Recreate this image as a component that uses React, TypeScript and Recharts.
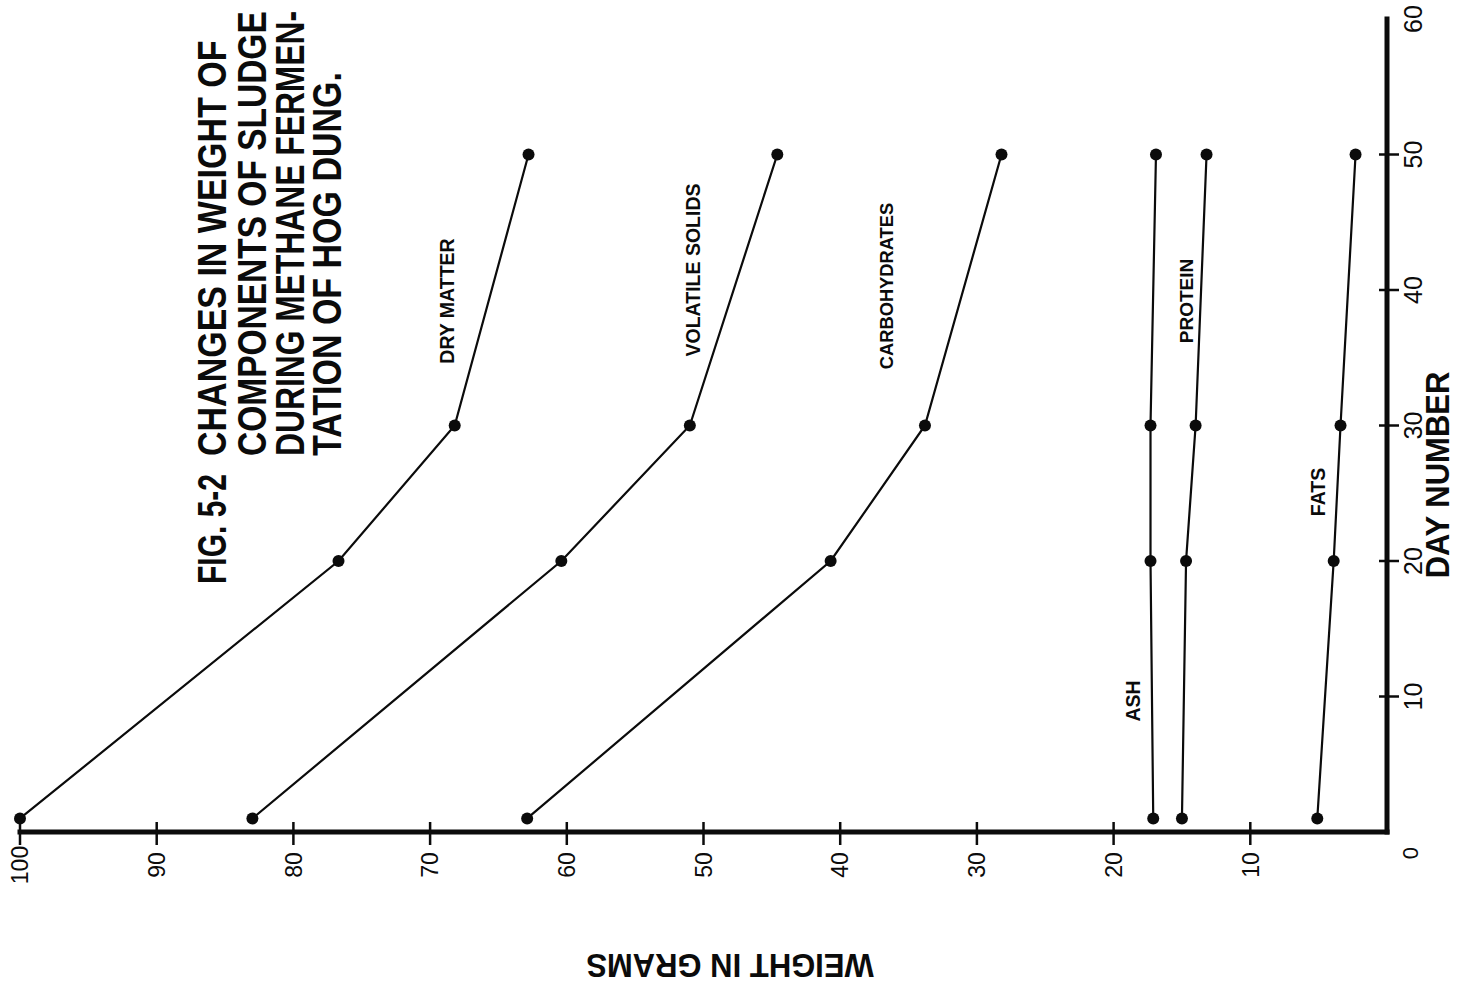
import { LineChart, Line, XAxis, YAxis } from 'recharts'

// days at which the sludge was sampled
const days = [1, 20, 30, 50]

// weight in grams of each component
const dryMatter = [100, 76.7, 68.2, 62.8]
const volatileSolids = [83.0, 60.4, 51.0, 44.6]
const carbohydrates = [62.9, 40.7, 33.8, 28.2]
const ash = [17.1, 17.3, 17.3, 16.9]
const protein = [15.0, 14.7, 14.0, 13.2]
const fats = [5.1, 3.9, 3.4, 2.3]

const weightTicks = [0, 10, 20, 30, 40, 50, 60, 70, 80, 90, 100]
const dayTicks = [0, 10, 20, 30, 40, 50, 60]

const titleLines = [
  'CHANGES IN WEIGHT OF',
  'COMPONENTS OF SLUDGE',
  'DURING METHANE FERMEN-',
  'TATION OF HOG DUNG.',
]

const data = days.map((day, i) => ({
  day,
  dry: dryMatter[i],
  volatile: volatileSolids[i],
  carbo: carbohydrates[i],
  ash: ash[i],
  protein: protein[i],
  fats: fats[i],
}))

const INK = '#0b0b0b'
const SANS = '"Liberation Sans", Arial, Helvetica, sans-serif'

// text turned a quarter turn, reading bottom to top, centred across (cx)
// stretch makes the letters taller without making the line longer
function UpText({ cx, cy, size, children, anchor = 'middle', weight = 'normal', stretch = 1 }: any) {
  return (
    <text
      transform={`translate(${cx},${cy}) rotate(-90) scale(1,${stretch})`}
      dy={size * 0.36}
      textAnchor={anchor}
      fontSize={size}
      fontWeight={weight}
      fontFamily={SANS}
      fill={INK}
    >
      {children}
    </text>
  )
}

function WeightTick(props: any) {
  const { x, y, payload } = props
  const v = payload.value
  if (v === 0) {
    return <UpText cx={x + 23} cy={y + 21} size={22}>0</UpText>
  }
  return (
    <g>
      <line x1={x} x2={x} y1={y - 10} y2={y + 13} stroke={INK} strokeWidth={2.5} />
      <UpText cx={x} cy={y + 33} size={23}>{v}</UpText>
    </g>
  )
}

function DayTick(props: any) {
  const { x, y, payload } = props
  const v = payload.value
  if (v === 0) return <g />
  return (
    <g>
      {v !== 60 && <line x1={x - 8} x2={x + 12} y1={y} y2={y} stroke={INK} strokeWidth={2.5} />}
      <UpText cx={x + 26} cy={y} size={25}>{v}</UpText>
    </g>
  )
}

const dot = { r: 6, fill: INK, stroke: INK, strokeWidth: 0 }

export default function App() {
  return (
    <div style={{ position: 'absolute', left: 0, top: 0, width: 1459, height: 987, background: '#fff' }}>
      <LineChart
        width={1459}
        height={987}
        data={data}
        layout="vertical"
        margin={{ top: 19, right: 12, bottom: 95, left: 20 }}
      >
        <XAxis
          type="number"
          domain={[0, 100]}
          ticks={weightTicks}
          interval={0}
          reversed
          height={60}
          tickSize={0}
          tickMargin={0}
          tickLine={false}
          axisLine={{ stroke: INK, strokeWidth: 5, strokeLinecap: 'square' }}
          tick={WeightTick}
        />
        <YAxis
          type="number"
          dataKey="day"
          orientation="right"
          domain={[0, 60]}
          ticks={dayTicks}
          interval={0}
          reversed
          width={60}
          tickSize={0}
          tickMargin={0}
          tickLine={false}
          axisLine={{ stroke: INK, strokeWidth: 5, strokeLinecap: 'square' }}
          tick={DayTick}
        />
        <Line dataKey="dry" stroke={INK} strokeWidth={2.2} dot={dot} isAnimationActive={false} />
        <Line dataKey="volatile" stroke={INK} strokeWidth={2.2} dot={dot} isAnimationActive={false} />
        <Line dataKey="carbo" stroke={INK} strokeWidth={2.2} dot={dot} isAnimationActive={false} />
        <Line dataKey="ash" stroke={INK} strokeWidth={2.2} dot={dot} isAnimationActive={false} />
        <Line dataKey="protein" stroke={INK} strokeWidth={2.2} dot={dot} isAnimationActive={false} />
        <Line dataKey="fats" stroke={INK} strokeWidth={2.2} dot={dot} isAnimationActive={false} />
      </LineChart>

      <svg
        width={1459}
        height={987}
        style={{ position: 'absolute', left: 0, top: 0, pointerEvents: 'none' }}
      >
        {/* figure title */}
        <UpText cx={211} cy={584} size={30} anchor="start" weight="bold" stretch={1.35}>
          FIG. 5-2
        </UpText>
        <UpText cx={211} cy={456} size={34} anchor="start" weight="bold" stretch={1.2}>
          {titleLines[0]}
        </UpText>
        <UpText cx={251} cy={456} size={33.5} anchor="start" weight="bold" stretch={1.22}>
          {titleLines[1]}
        </UpText>
        <UpText cx={289} cy={456} size={31.8} anchor="start" weight="bold" stretch={1.28}>
          {titleLines[2]}
        </UpText>
        <UpText cx={326} cy={456} size={34} anchor="start" weight="bold" stretch={1.2}>
          {titleLines[3]}
        </UpText>

        {/* series names */}
        <UpText cx={447} cy={301} size={19.5} weight="bold">DRY MATTER</UpText>
        <UpText cx={693} cy={270} size={19.5} weight="bold">VOLATILE SOLIDS</UpText>
        <UpText cx={886} cy={286} size={18.3} weight="bold" stretch={1.05}>CARBOHYDRATES</UpText>
        <UpText cx={1133} cy={701} size={19.5} weight="bold">ASH</UpText>
        <UpText cx={1186} cy={301} size={19} weight="bold">PROTEIN</UpText>
        <UpText cx={1318} cy={492} size={19.5} weight="bold">FATS</UpText>

        {/* axis titles */}
        <UpText cx={1437} cy={475} size={31} weight="bold" stretch={1.1}>DAY NUMBER</UpText>
        <text
          transform="translate(730,966) rotate(180) scale(1,1.1)"
          dy={31 * 0.36}
          textAnchor="middle"
          fontSize={31}
          fontWeight="bold"
          fontFamily={SANS}
          fill={INK}
        >
          WEIGHT IN GRAMS
        </text>
      </svg>
    </div>
  )
}
